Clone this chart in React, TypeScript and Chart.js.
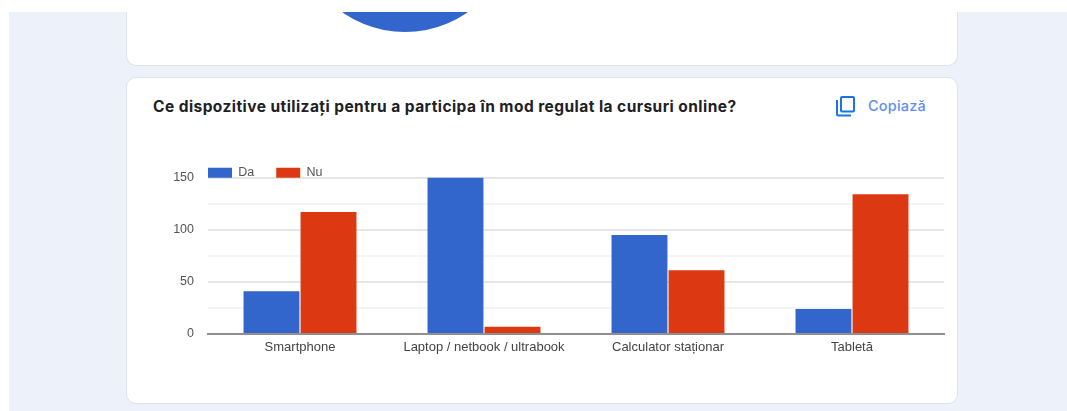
import React, { useEffect, useRef } from "react";
import { Chart, registerables } from "chart.js";

Chart.register(...registerables);

const categories = ["Smartphone", "Laptop / netbook / ultrabook", "Calculator staționar", "Tabletă"];
const daValues = [41, 150, 95, 24];
const nuValues = [117, 7, 61, 134];
const seriesNames = ["Da", "Nu"];
const seriesColors = ["#3366cc", "#dc3912"];
const pieValues = [1];
const titleText = "Ce dispozitive utilizați pentru a participa în mod regulat la cursuri online?";
const copyText = "Copiază";

const PAGE = "#edf2fa";
const FONT = "'Liberation Sans', Arial, sans-serif";

const legendPlacer = {
  id: "legendPlacer",
  afterLayout(chart: any) {
    const l = chart.legend;
    if (!l) return;
    const w = l.right - l.left;
    const h = l.bottom - l.top;
    l.left = chart.chartArea.left - 22;
    l.right = l.left + w;
    l.top = chart.chartArea.top - 33;
    l.bottom = l.top + h;
  },
};

export default function App() {
  const barRef = useRef<HTMLCanvasElement>(null);
  const pieRef = useRef<HTMLCanvasElement>(null);

  useEffect(() => {
    const bar = new Chart(barRef.current!, {
      type: "bar",
      data: {
        labels: categories,
        datasets: [
          { label: seriesNames[0], data: daValues, backgroundColor: seriesColors[0], categoryPercentage: 0.62, barPercentage: 0.98 },
          { label: seriesNames[1], data: nuValues, backgroundColor: seriesColors[1], categoryPercentage: 0.62, barPercentage: 0.98 },
        ],
      },
      options: {
        animation: false,
        responsive: false,
        maintainAspectRatio: false,
        layout: { padding: { top: 0, right: 8, bottom: 0, left: 0 } },
        plugins: {
          title: { display: false },
          tooltip: { enabled: false },
          legend: {
            display: true,
            position: "top",
            align: "start",
            labels: {
              boxWidth: 24,
              boxHeight: 10,
              padding: 22,
              color: "#555555",
              font: { family: FONT, size: 12.5 },
            },
          },
        },
        scales: {
          x: {
            afterFit(axis: any) {
              axis.height = 50;
            },
            grid: { display: false },
            border: { color: "#8f8f8f", width: 2 },
            ticks: { color: "#444444", font: { family: FONT, size: 13 }, padding: -2, maxRotation: 0, autoSkip: false },
          },
          y: {
            min: 0,
            max: 150,
            afterFit(axis: any) {
              axis.width = 76;
            },
            afterBuildTicks(axis: any) {
              axis.ticks = [0, 25, 50, 75, 100, 125, 150].map((value) => ({ value }));
            },
            grid: {
              drawTicks: false,
              lineWidth: 2,
              color: (ctx: any) => {
                const v = ctx.tick ? ctx.tick.value : 1;
                if (v === 0) return "#8f8f8f";
                return v % 50 === 0 ? "#e6e6e6" : "#f4f4f4";
              },
            },
            border: { display: false },
            ticks: {
              color: "#555555",
              font: { family: FONT, size: 12.5 },
              padding: 14,
              callback: (v: any) => (Number(v) % 50 === 0 ? String(v) : ""),
            },
          },
        },
      },
      plugins: [legendPlacer],
    } as any);

    const pie = new Chart(pieRef.current!, {
      type: "pie",
      data: { datasets: [{ data: pieValues, backgroundColor: seriesColors[0], borderWidth: 0 }] },
      options: {
        animation: false,
        responsive: false,
        maintainAspectRatio: false,
        plugins: { legend: { display: false }, tooltip: { enabled: false } },
      },
    } as any);

    return () => {
      bar.destroy();
      pie.destroy();
    };
  }, []);

  const card: React.CSSProperties = {
    position: "absolute",
    left: 126,
    width: 832,
    background: "#fff",
    border: "1px solid #dde2ea",
    boxSizing: "border-box",
    overflow: "hidden",
  };

  return (
    <div style={{ position: "fixed", inset: 0, background: "#fff", overflow: "hidden", fontFamily: FONT }}>
      <div style={{ position: "absolute", left: 9, top: 12, right: 0, bottom: 0, background: PAGE }} />

      <div style={{ ...card, top: 12, height: 54, borderTop: "none", borderRadius: "0 0 10px 10px" }}>
        <canvas ref={pieRef} width={218} height={218} style={{ position: "absolute", left: 169, top: -198, width: 218, height: 218 }} />
      </div>

      <div style={{ ...card, top: 77, height: 327, borderRadius: 10 }} />

      <canvas
        ref={barRef}
        width={820}
        height={251}
        style={{ position: "absolute", left: 132, top: 133, width: 820, height: 251 }}
      />

      <div
        style={{
          position: "absolute",
          left: 153,
          top: 98,
          fontFamily: "Inter, sans-serif",
          fontWeight: 700,
          fontSize: 15.5,
          lineHeight: "18px",
          letterSpacing: "0.44px",
          color: "#202124",
          whiteSpace: "nowrap",
        }}
      >
        {titleText}
      </div>

      <svg width="22" height="22" viewBox="0 0 22 22" style={{ position: "absolute", left: 835, top: 95 }}>
        <path d="M2 5 V19 a1.5 1.5 0 0 0 1.5 1.5 H16" fill="none" stroke="#1a73e8" strokeWidth="2" />
        <rect x="6" y="2" width="13" height="14.5" rx="1" fill="none" stroke="#1a73e8" strokeWidth="2" />
      </svg>

      <div
        style={{
          position: "absolute",
          left: 868,
          top: 97,
          fontFamily: "Inter, sans-serif",
          fontWeight: 500,
          fontSize: 14.5,
          lineHeight: "17px",
          letterSpacing: "0.2px",
          color: "#5f8fee",
          whiteSpace: "nowrap",
        }}
      >
        {copyText}
      </div>
    </div>
  );
}
